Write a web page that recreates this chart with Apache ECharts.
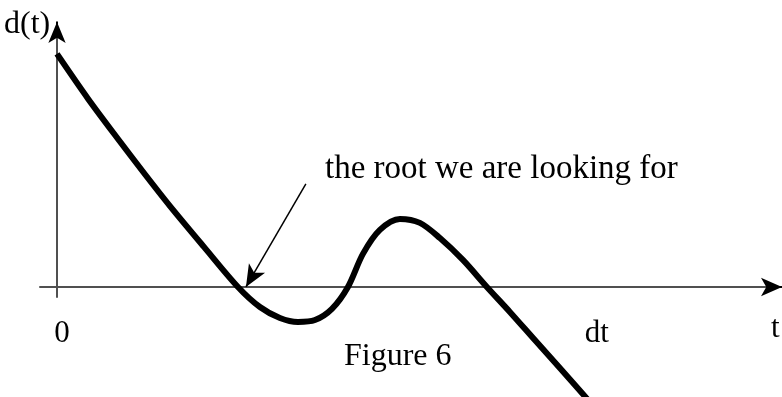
<!DOCTYPE html>
<html>
<head>
<meta charset="utf-8">
<style>
  html, body { margin: 0; padding: 0; background: #fff; }
  #chart { width: 782px; height: 397px; }
</style>
<script src="https://cdn.jsdelivr.net/npm/echarts@6/dist/echarts.min.js"></script>
</head>
<body>
<div id="chart"></div>
<script>
// d(t) sampled along the curve; t in units where dt = 10
const tValues = [0, 0.574, 1.13, 1.611, 2.093, 2.722, 3.352, 3.759, 4.13, 4.463, 4.778, 5.093, 5.389, 5.667, 5.981, 6.352, 6.722, 7.093, 7.519, 7.963, 8.389, 8.852, 9.315, 9.741, 9.87];
const dValues = [10, 8.08, 6.35, 4.89, 3.47, 1.72, 0, -0.86, -1.33, -1.5, -1.42, -0.94, 0, 1.42, 2.45, 2.92, 2.75, 2.1, 1.16, 0, -1.07, -2.28, -3.48, -4.59, -4.94];

// tick positions on the t axis and their labels
const tickValues = [0, 10];
const tickLabels = ['0', 'dt'];

// the root the annotation points at, and where its arrow starts
const rootT = 3.5;
const noteStart = [4.61, 4.42];

// axis extents
const T_MIN = -0.315, T_MAX = 13.43;
const D_MIN = -0.43, D_MAX = 11.37;

const FONT = '"Liberation Serif", "DejaVu Serif", serif';
const AXIS_COLOR = '#505050';

const chart = echarts.init(document.getElementById('chart'), null, { renderer: 'canvas' });

const axisLineStyle = { show: true, onZero: true, lineStyle: { color: AXIS_COLOR, width: 2 } };

chart.setOption({
  animation: false,
  backgroundColor: '#ffffff',
  grid: { left: 40, right: 0, top: 22, bottom: 100 },
  xAxis: {
    type: 'value',
    min: T_MIN,
    max: T_MAX,
    splitLine: { show: false },
    axisTick: { show: false },
    axisLine: axisLineStyle,
    axisLabel: {
      show: true,
      customValues: tickValues,
      margin: 21,
      fontFamily: FONT,
      fontSize: 31,
      color: '#000',
      formatter: function (v) {
        const i = tickValues.indexOf(v);
        return i === 0 ? '{z|' + tickLabels[i] + '}' : tickLabels[i];
      },
      rich: { z: { fontFamily: FONT, fontSize: 31, color: '#000', padding: [0, 0, 0, 10] } }
    }
  },
  yAxis: {
    type: 'value',
    min: D_MIN,
    max: D_MAX,
    splitLine: { show: false },
    axisTick: { show: false },
    axisLabel: { show: false },
    axisLine: axisLineStyle
  },
  series: [
    {
      type: 'line',
      data: tValues.map((t, i) => [t, dValues[i]]),
      smooth: 0.3,
      showSymbol: false,
      clip: false,
      lineStyle: { color: '#000', width: 6, cap: 'butt', join: 'round' },
      markLine: {
        silent: true,
        animation: false,
        label: { show: false },
        data: [
          // annotation arrow pointing at the root
          [
            { coord: noteStart, symbol: 'none', lineStyle: { color: '#000', width: 1.5, type: 'solid' } },
            { coord: [rootT, 0], symbol: 'arrow', symbolSize: [14, 22] }
          ],
          // tick mark at dt, crossing the t axis
          [
            { coord: [tickValues[1], 0.64], symbol: 'none', lineStyle: { color: AXIS_COLOR, width: 2, type: 'solid' } },
            { coord: [tickValues[1], -0.6], symbol: 'none' }
          ],
          // black arrow heads at the ends of both axes
          [
            { coord: [0, D_MAX - 0.2], symbol: 'none', lineStyle: { color: '#000', width: 2, type: 'solid' } },
            { coord: [0, D_MAX], symbol: 'arrow', symbolSize: [13, 21] }
          ],
          [
            { coord: [T_MAX - 0.08, 0], symbol: 'none', lineStyle: { color: '#000', width: 2, type: 'solid' } },
            { coord: [T_MAX, 0], symbol: 'arrow', symbolSize: [14, 21] }
          ]
        ]
      }
    }
  ],
  graphic: [
    { type: 'text', left: 4, top: 9, style: { text: 'd(t)', font: '32px ' + FONT, fill: '#000' } },
    { type: 'text', left: 771, top: 313, style: { text: 't', font: '31px ' + FONT, fill: '#000' } },
    { type: 'text', left: 344, top: 341, style: { text: 'Figure 6', font: '32px ' + FONT, fill: '#000' } },
    { type: 'text', left: 325, top: 153, style: { text: 'the root we are looking for', font: '33px ' + FONT, fill: '#000' } }
  ]
});
</script>
</body>
</html>
